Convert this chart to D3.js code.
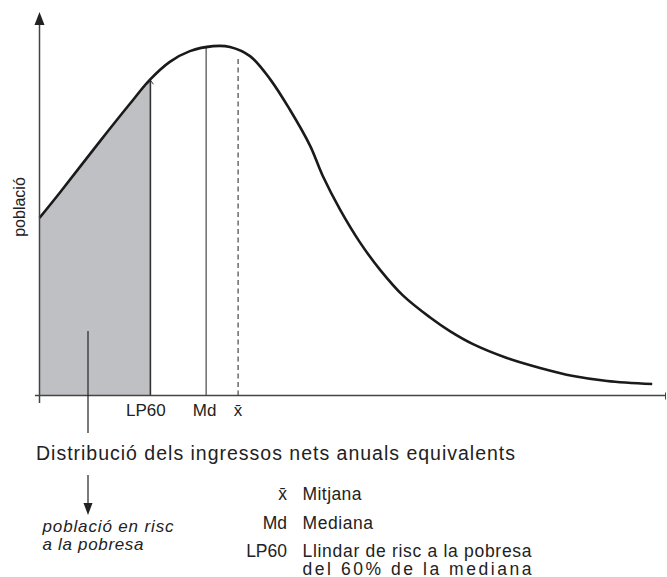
<!DOCTYPE html>
<html>
<head>
<meta charset="utf-8">
<script src="https://cdn.jsdelivr.net/npm/d3@7"></script>
<style>
  html, body { margin: 0; padding: 0; background: #fff; }
  svg { display: block; }
  text { font-family: "Liberation Sans", Arial, Helvetica, sans-serif; fill: #222; }
</style>
</head>
<body>
<script>
// ---- data (arbitrary income / population units) ----
const income     = [0, 3.3, 9.7, 14.4, 17.6, 20.8, 24.0, 27.7, 30.4, 33.6, 36.8, 39.9, 43.2, 45.2, 48.0, 51.2, 54.4, 58.0, 62.3, 65.5, 69.2, 74.6, 79.9, 85.2, 90.6, 97.8];
const population = [46.3, 53.0, 66.4, 76.0, 82.3, 87.0, 89.8, 91.1, 90.9, 88.5, 82.5, 74.7, 65.1, 57.3, 48.4, 39.8, 32.7, 26.1, 20.4, 16.8, 13.4, 9.8, 7.2, 5.1, 3.8, 3.0];

const markerNames  = ["LP60", "Md", "x\u0304"];
const markerValues = [17.7, 26.6, 31.7];

const yAxisLabel = "població";
const xTitle = "Distribució dels ingressos nets anuals equivalents";
const poorLabel = ["població en risc", "a la pobresa"];

const legendKeys  = ["x\u0304", "Md", "LP60"];
const legendTexts = ["Mitjana", "Mediana", "Llindar de risc a la pobresa"];
const legendExtra = "del 60% de la mediana";

// ---- layout ----
const W = 667, H = 577;
const svg = d3.select("body").append("svg").attr("width", W).attr("height", H);

const x = d3.scaleLinear().domain([0, 100]).range([39.5, 666]);
const y = d3.scaleLinear().domain([0, 100]).range([395.5, 12]);

const pts = income.map((v, i) => [v, population[i]]);
const smooth = d3.curveCatmullRom.alpha(0.5);

// shaded area (clipped to LP60)
const defs = svg.append("defs");
defs.append("clipPath").attr("id", "poorClip")
  .append("rect")
  .attr("x", x(0)).attr("y", 0)
  .attr("width", x(markerValues[0]) - x(0))
  .attr("height", y(0));

const area = d3.area()
  .x(d => x(d[0])).y0(y(0)).y1(d => y(d[1]))
  .curve(smooth);

svg.append("path")
  .datum(pts)
  .attr("d", area)
  .attr("fill", "#bfc0c4")
  .attr("clip-path", "url(#poorClip)");

const gM = svg.append("g");

// curve
const line = d3.line().x(d => x(d[0])).y(d => y(d[1])).curve(smooth);
const curve = svg.append("path")
  .datum(pts)
  .attr("d", line)
  .attr("fill", "none")
  .attr("stroke", "#1a1a1a")
  .attr("stroke-width", 2.6);

// helper: curve y (pixels) at a given pixel x
const node = curve.node();
const total = node.getTotalLength();
function curveYAt(px) {
  let lo = 0, hi = total;
  for (let i = 0; i < 40; i++) {
    const mid = (lo + hi) / 2;
    const p = node.getPointAtLength(mid);
    if (p.x < px) lo = mid; else hi = mid;
  }
  return node.getPointAtLength((lo + hi) / 2).y;
}

// marker lines
markerValues.forEach((v, i) => {
  const px = x(v);
  const top = curveYAt(px);
  if (i === 0) {
    gM.append("line").attr("x1", px).attr("x2", px).attr("y1", y(0)).attr("y2", top + 1)
      .attr("stroke", "#333").attr("stroke-width", 1.6);
    gM.append("path")
      .attr("d", `M${px - 3},${top + 5} L${px},${top + 1} L${px + 3},${top + 5}`)
      .attr("fill", "none").attr("stroke", "#333").attr("stroke-width", 1);
  } else if (i === 1) {
    gM.append("line").attr("x1", px).attr("x2", px).attr("y1", y(0)).attr("y2", top)
      .attr("stroke", "#555").attr("stroke-width", 1.3);
  } else {
    gM.append("line").attr("x1", px).attr("x2", px).attr("y1", y(0)).attr("y2", top + 8)
      .attr("stroke", "#555").attr("stroke-width", 1.3)
      .attr("stroke-dasharray", "5,3.5");
  }
});

// axes
const axisColor = "#444";
svg.append("line").attr("x1", x(0)).attr("x2", x(0)).attr("y1", 403).attr("y2", 22)
  .attr("stroke", axisColor).attr("stroke-width", 1.5);
svg.append("path").attr("d", `M${x(0)},12 L${x(0) - 5},25 L${x(0) + 5},25 Z`).attr("fill", "#222");
svg.append("line").attr("x1", 35).attr("x2", x(100)).attr("y1", y(0)).attr("y2", y(0))
  .attr("stroke", axisColor).attr("stroke-width", 1.5);
svg.append("line").attr("x1", x(100) - 0.5).attr("x2", x(100) - 0.5).attr("y1", y(0) - 3).attr("y2", y(0) + 4)
  .attr("stroke", axisColor).attr("stroke-width", 1);

// marker tick labels
const dxs = [-4.5, -1.5, 0];
markerNames.forEach((n, i) => {
  svg.append("text")
    .attr("x", x(markerValues[i]) + dxs[i]).attr("y", 415.5)
    .attr("text-anchor", "middle")
    .attr("font-size", 17)
    .text(n);
});

// y label
svg.append("text")
  .attr("transform", `translate(25,207) rotate(-90)`)
  .attr("text-anchor", "middle")
  .attr("font-size", 16)
  .text(yAxisLabel);

// pointer line from shaded area downward
const px0 = 88;
svg.append("line").attr("x1", px0).attr("x2", px0).attr("y1", 331).attr("y2", 433)
  .attr("stroke", "#222").attr("stroke-width", 1.2);

// title
svg.append("text").attr("x", 36).attr("y", 460).attr("font-size", 19.5)
  .attr("textLength", 479).attr("lengthAdjust", "spacing").text(xTitle);

// arrow down
svg.append("line").attr("x1", px0).attr("x2", px0).attr("y1", 475).attr("y2", 505)
  .attr("stroke", "#222").attr("stroke-width", 1.2);
svg.append("path").attr("d", `M${px0},515 L${px0 - 4.5},503 L${px0 + 4.5},503 Z`).attr("fill", "#222");

// italic note
const poorW = [131, 101];
poorLabel.forEach((t, i) => {
  svg.append("text").attr("x", 42.5).attr("y", 531.5 + i * 18)
    .attr("font-size", 17).attr("font-style", "italic")
    .attr("textLength", poorW[i]).attr("lengthAdjust", "spacing").text(t);
});

// legend
const legY = [500, 529, 557];
const legW = [59, 70.5, 229];
legendKeys.forEach((k, i) => {
  svg.append("text").attr("x", 287).attr("y", legY[i]).attr("text-anchor", "end")
    .attr("font-size", 17.5).text(k);
  svg.append("text").attr("x", 302.5).attr("y", legY[i])
    .attr("font-size", 17.5).attr("textLength", legW[i])
    .attr("lengthAdjust", "spacing")
    .text(legendTexts[i]);
});
svg.append("text").attr("x", 302.5).attr("y", 575)
  .attr("font-size", 17.5).attr("textLength", 229).attr("lengthAdjust", "spacing")
  .text(legendExtra);
</script>
</body>
</html>
